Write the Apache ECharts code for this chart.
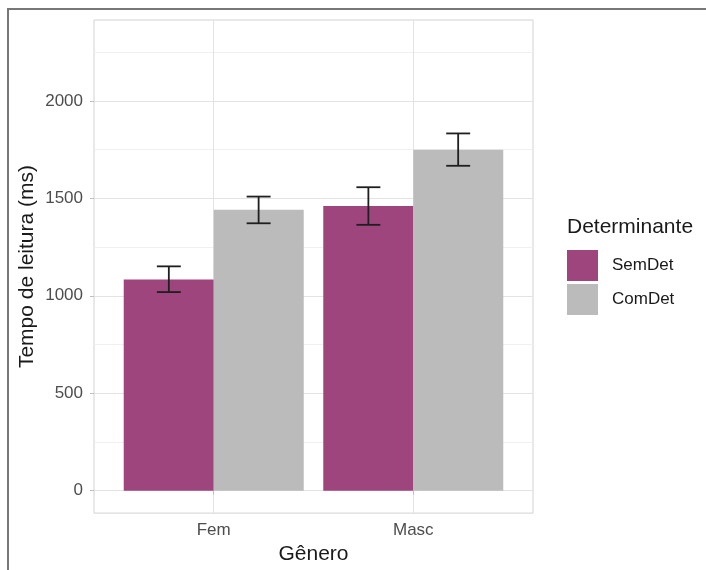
<!DOCTYPE html>
<html>
<head>
<meta charset="utf-8">
<script src="https://cdn.jsdelivr.net/npm/echarts@6/dist/echarts.min.js"></script>
<style>
  html, body { margin: 0; padding: 0; background: #fff; }
  #chart { width: 706px; height: 570px; }
</style>
</head>
<body>
<div id="chart"></div>
<script>
// categories on the x axis (positions 1, 2 like ggplot's discrete scale)
var categories = ['Fem', 'Masc'];
var catPos = [1, 2];
var seriesNames = ['SemDet', 'ComDet'];

// mean reading time (ms)
var semDet = [1084, 1461];
var comDet = [1442, 1749];
// error bar limits
var semLow = [1019, 1364];
var semHigh = [1151, 1557];
var comLow = [1372, 1667];
var comHigh = [1509, 1833];

var yMajor = [0, 500, 1000, 1500, 2000];
var yAll = [0, 250, 500, 750, 1000, 1250, 1500, 1750, 2000, 2250];

var colors = ['#9f457d', '#bbbbbb'];
var dodge = 0.225;   // half of bar width in x units
var capHalf = 0.06;
var font = 'Liberation Sans, Arial, sans-serif';

var chart = echarts.init(document.getElementById('chart'));

function toPairs(vals) {
    return vals.map(function (v, i) { return [catPos[i], v]; });
}

var errData = [];
catPos.forEach(function (x, i) {
    errData.push([x - dodge, semLow[i], semHigh[i]]);
    errData.push([x + dodge, comLow[i], comHigh[i]]);
});

var option = {
    backgroundColor: '#fff',
    textStyle: { fontFamily: font },
    animation: false,
    grid: {
        left: 94, right: 173, top: 20, bottom: 56,
        show: true, borderColor: '#d2d2d2', borderWidth: 1,
        backgroundColor: 'transparent'
    },
    legend: {
        orient: 'vertical',
        left: 567, top: 250, padding: 0,
        data: seriesNames,
        itemWidth: 31, itemHeight: 31, itemGap: 3,
        icon: 'rect',
        textStyle: { fontSize: 17, color: '#1a1a1a', padding: [0, 0, 0, 9] },
        selectedMode: false
    },
    xAxis: {
        type: 'value', min: 0.4, max: 2.6,
        axisLine: { show: false },
        axisTick: { show: true, customValues: catPos, length: 4, lineStyle: { color: '#bdbdbd' } },
        axisLabel: {
            customValues: catPos, margin: 9, fontSize: 17, color: '#4d4d4d',
            formatter: function (v) { return categories[catPos.indexOf(v)] || ''; }
        },
        splitLine: { show: true, lineStyle: { color: '#e3e3e3', width: 1 } },
        name: 'Gênero', nameLocation: 'middle', nameGap: 30,
        nameTextStyle: { fontSize: 21, color: '#1a1a1a' }
    },
    yAxis: [{
        type: 'value', min: -115, max: 2415,
        axisLine: { show: false },
        axisTick: { show: false, customValues: yAll },
        axisLabel: { show: false },
        splitLine: { show: true, lineStyle: { color: ['#e3e3e3', '#f0f0f0'], width: 1 } },
        name: 'Tempo de leitura (ms)', nameLocation: 'middle', nameGap: 56,
        nameTextStyle: { fontSize: 21, color: '#1a1a1a' }
    }, {
        type: 'value', min: -115, max: 2415, position: 'left', offset: 0,
        axisLine: { show: false },
        axisTick: { show: true, customValues: yMajor, length: 4, lineStyle: { color: '#bdbdbd' } },
        axisLabel: {
            customValues: yMajor, margin: 11, fontSize: 17, color: '#4d4d4d',
            formatter: function (v) { return String(v); }
        },
        splitLine: { show: false }
    }],
    series: [{
        name: seriesNames[0], type: 'bar',
        data: toPairs(semDet),
        barWidth: 90, barGap: '0%',
        itemStyle: { color: colors[0] }
    }, {
        name: seriesNames[1], type: 'bar',
        data: toPairs(comDet),
        barWidth: 90, barGap: '0%',
        itemStyle: { color: colors[1] }
    }, {
        type: 'custom',
        name: 'erro',
        data: errData,
        z: 5,
        renderItem: function (params, api) {
            var x = api.value(0);
            var lo = api.coord([x, api.value(1)]);
            var hi = api.coord([x, api.value(2)]);
            var l = api.coord([x - capHalf, api.value(1)])[0];
            var r = api.coord([x + capHalf, api.value(1)])[0];
            var style = { stroke: '#1f1f1f', lineWidth: 1.8 };
            return {
                type: 'group',
                children: [
                    { type: 'line', shape: { x1: lo[0], y1: lo[1], x2: hi[0], y2: hi[1] }, style: style },
                    { type: 'line', shape: { x1: l, y1: lo[1], x2: r, y2: lo[1] }, style: style },
                    { type: 'line', shape: { x1: l, y1: hi[1], x2: r, y2: hi[1] }, style: style }
                ]
            };
        }
    }],
    graphic: [{
        type: 'text', left: 567, top: 217,
        style: { text: 'Determinante', fontSize: 21, fill: '#1a1a1a', fontFamily: font }
    }, {
        type: 'polyline',
        shape: { points: [[8, 570], [8, 9], [706, 9]] },
        style: { stroke: '#777', lineWidth: 2, fill: null }
    }]
};

chart.setOption(option);
</script>
</body>
</html>
